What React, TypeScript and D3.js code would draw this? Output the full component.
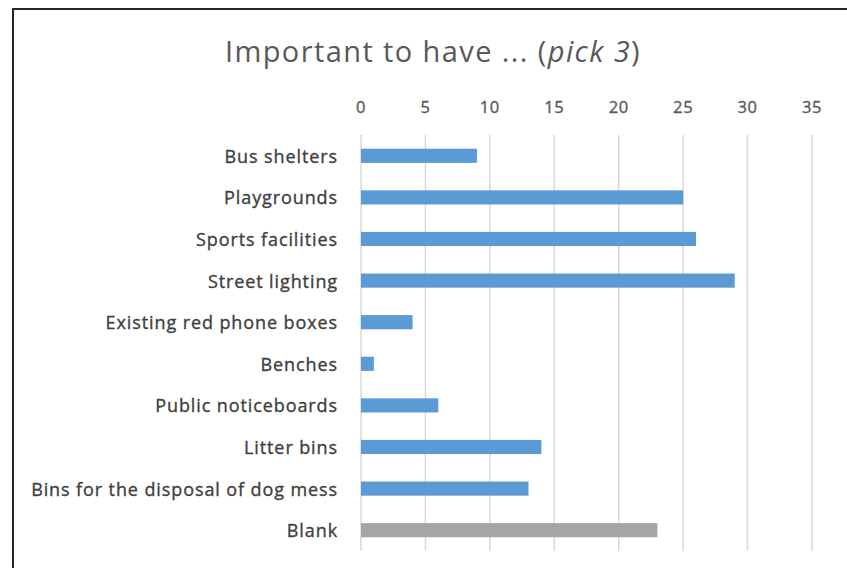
import * as d3 from "d3";

const WIDTH = 847;
const HEIGHT = 568;

const categories = [
  "Bus shelters",
  "Playgrounds",
  "Sports facilities",
  "Street lighting",
  "Existing red phone boxes",
  "Benches",
  "Public noticeboards",
  "Litter bins",
  "Bins for the disposal of dog mess",
  "Blank",
];
const values = [9, 25, 26, 29, 4, 1, 6, 14, 13, 23];
const tickValues = [0, 5, 10, 15, 20, 25, 30, 35];

const FONT = "'Open Sans', sans-serif";

const App = () => {
  const xScale = d3.scaleLinear().domain([0, 35]).range([361, 812]);
  const yScale = d3
    .scaleBand()
    .domain(categories)
    .range([135, 551])
    .paddingInner(0.66)
    .paddingOuter(0.33);

  const grid = tickValues.map((value, i) => (
    <g key={i}>
      <line
        x1={xScale(value)}
        x2={xScale(value)}
        y1={135}
        y2={551}
        stroke="#d9d9d9"
        strokeWidth={1.5}
      />
      <text
        x={xScale(value)}
        y={106}
        textAnchor="middle"
        dominantBaseline="central"
        fontSize={16.5}
        letterSpacing={0.6}
        fill="#595959"
        stroke="#595959"
        strokeWidth={0.35}
      >
        {value}
      </text>
    </g>
  ));

  const bars = categories.map((cat, i) => (
    <g key={cat}>
      <rect
        x={xScale(0)}
        y={yScale(cat)!}
        width={xScale(values[i]) - xScale(0)}
        height={yScale.bandwidth()}
        fill={cat === "Blank" ? "#a5a5a5" : "#5b9bd5"}
      />
      <text
        x={338}
        y={yScale(cat)! + yScale.bandwidth() / 2}
        textAnchor="end"
        dominantBaseline="central"
        fontSize={18}
        letterSpacing={0.9}
        fill="#404040"
        stroke="#404040"
        strokeWidth={0.35}
      >
        {cat}
      </text>
    </g>
  ));

  return (
    <div style={{ position: "absolute", left: 0, top: 0 }}>
      <svg width={WIDTH} height={HEIGHT} fontFamily={FONT}>
        <rect width={WIDTH} height={HEIGHT} fill="white" />
        <rect
          x={13}
          y={9}
          width={WIDTH + 20}
          height={HEIGHT + 20}
          fill="none"
          stroke="#262626"
          strokeWidth={2}
        />
        <text
          x={433}
          y={50}
          textAnchor="middle"
          dominantBaseline="central"
          fontSize={29}
          letterSpacing={1.4}
          fill="#595959"
        >
          Important to have ... (<tspan fontStyle="italic">pick 3</tspan>)
        </text>
        {grid}
        {bars}
      </svg>
    </div>
  );
};

export default App;
